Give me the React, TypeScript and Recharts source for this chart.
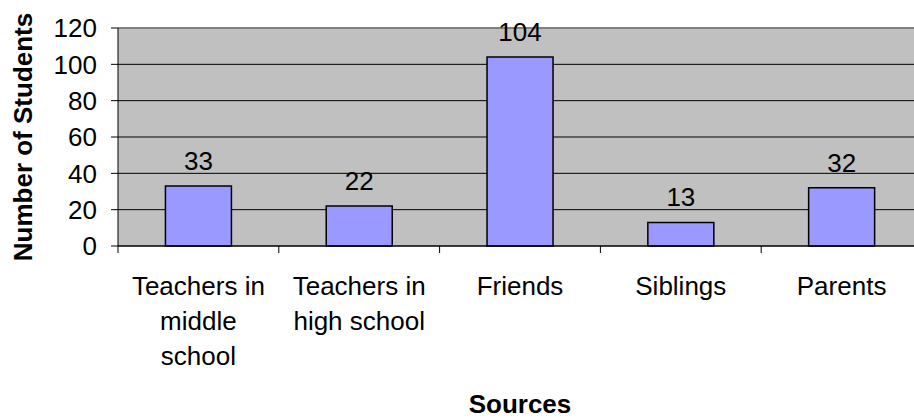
import { BarChart, Bar, XAxis, YAxis, CartesianGrid, ReferenceLine, LabelList, Label } from "recharts";

const categories = [
  "Teachers in middle school",
  "Teachers in high school",
  "Friends",
  "Siblings",
  "Parents",
];
const students = [33, 22, 104, 13, 32];
const yTicks = [0, 20, 40, 60, 80, 100, 120];

const data = categories.map((name, i) => ({ name, students: students[i] }));

const FONT = "'Liberation Sans', Arial, sans-serif";
const FS = 26;
const CHART_W = 930;
const CHART_H = 418;
const Y_AXIS_W = 118;
const MARGIN = { top: 28, right: 8, left: 0, bottom: 42 };
const BAND = (CHART_W - Y_AXIS_W - MARGIN.left - MARGIN.right) / categories.length;
const WRAP_W = 145;

// greedy word wrap, measured with canvas
function wrap(label: string): string[] {
  const ctx = document.createElement("canvas").getContext("2d");
  if (!ctx) return [label];
  ctx.font = `${FS}px ${FONT}`;
  const lines: string[] = [];
  let cur = "";
  for (const w of label.split(" ")) {
    const test = cur ? cur + " " + w : w;
    if (cur && ctx.measureText(test).width > WRAP_W) {
      lines.push(cur);
      cur = w;
    } else {
      cur = test;
    }
  }
  if (cur) lines.push(cur);
  return lines;
}

function CategoryTick(props: any) {
  const { x, y, payload, index } = props;
  const half = BAND / 2;
  const lines = wrap(String(payload.value));
  return (
    <g>
      <line x1={x - half} x2={x - half} y1={y} y2={y + 7} stroke="#000" />
      {index === categories.length - 1 && (
        <line x1={x + half} x2={x + half} y1={y} y2={y + 7} stroke="#000" />
      )}
      <text x={x} y={y + 49} textAnchor="middle" fontSize={FS} fontFamily={FONT} fill="#000">
        {lines.map((l, i) => (
          <tspan key={i} x={x} dy={i === 0 ? 0 : 35}>
            {l}
          </tspan>
        ))}
      </text>
    </g>
  );
}

export default function App() {
  return (
    <div style={{ position: "absolute", left: 0, top: 0, width: 914, height: 418, overflow: "hidden", background: "#fff" }}>
      <BarChart width={CHART_W} height={CHART_H} data={data} margin={MARGIN} barCategoryGap="29.5%">
        <CartesianGrid vertical={false} stroke="#000" fill="#C0C0C0" fillOpacity={1} />
        <ReferenceLine y={120} stroke="#808080" strokeWidth={2} />
        <XAxis
          dataKey="name"
          interval={0}
          tickSize={0}
          tickMargin={0}
          tickLine={false}
          axisLine={{ stroke: "#000" }}
          height={130}
          tick={<CategoryTick />}
        >
          <Label
            content={() => (
              <text x={520} y={413} textAnchor="middle" fontSize={26} fontWeight="bold" fontFamily={FONT} fill="#000">
                Sources
              </text>
            )}
          />
        </XAxis>
        <YAxis
          width={Y_AXIS_W}
          domain={[0, 120]}
          ticks={yTicks}
          interval={0}
          tickSize={7}
          tickMargin={14}
          axisLine={{ stroke: "#000" }}
          tickLine={{ stroke: "#000" }}
          tick={{ fontSize: FS, fill: "#000", fontFamily: FONT }}
        >
          <Label
            content={() => (
              <text
                x={32}
                y={137}
                transform="rotate(-90 32 137)"
                textAnchor="middle"
                fontSize={26}
                fontWeight="bold"
                fontFamily={FONT}
                fill="#000"
              >
                Number of Students
              </text>
            )}
          />
        </YAxis>
        <Bar dataKey="students" fill="#9999FF" stroke="#000" strokeWidth={1.5} isAnimationActive={false}>
          <LabelList
            dataKey="students"
            content={(p: any) => (
              <text
                x={Number(p.x) + Number(p.width) / 2}
                y={Number(p.y) - 16}
                textAnchor="middle"
                fontSize={FS}
                fontFamily={FONT}
                fill="#000"
              >
                {p.value}
              </text>
            )}
          />
        </Bar>
      </BarChart>
    </div>
  );
}
